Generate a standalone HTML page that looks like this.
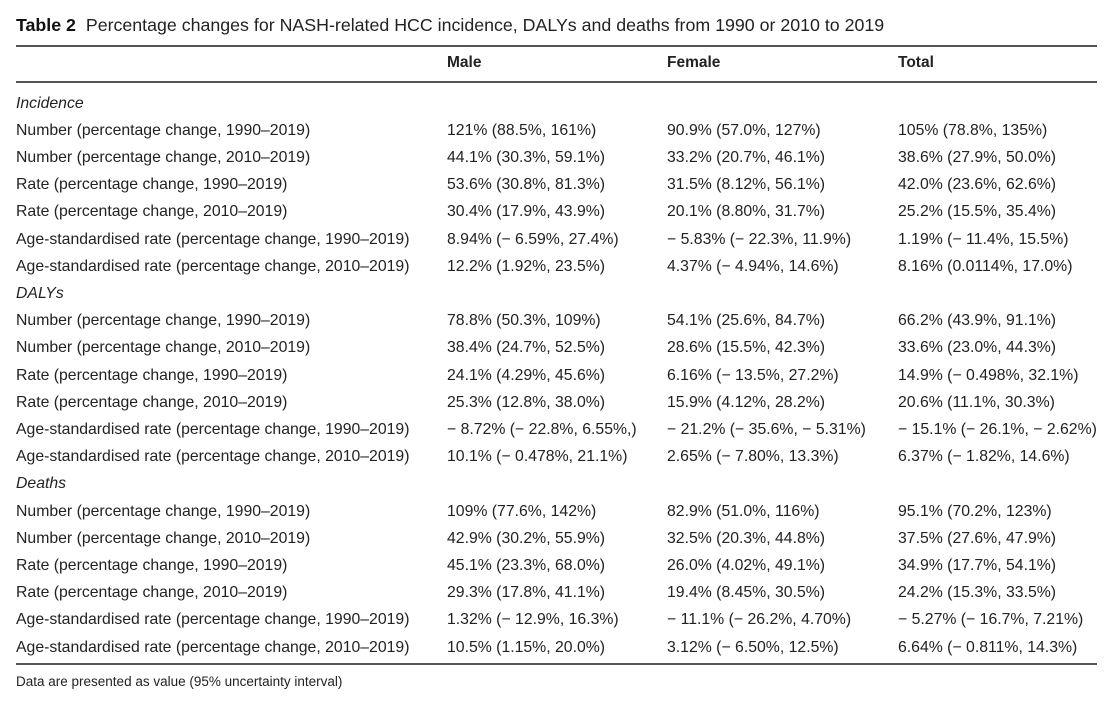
<!DOCTYPE html>
<html><head><meta charset="utf-8"><style>
body{margin:0;width:1107px;height:702px;background:#fff;font-family:"Liberation Sans",sans-serif;color:#222;position:relative;overflow:hidden}
.t{position:absolute;white-space:nowrap;font-size:15.8px;line-height:18px}
.r{position:absolute;left:16px;width:1081px;height:2px;background:#555}
i{font-style:italic}
</style></head><body>
<div class="t" style="left:16px;top:14px;font-size:17.8px;line-height:22px"><b style="color:#111">Table 2</b>&nbsp; Percentage changes for NASH-related HCC incidence, DALYs and deaths from 1990 or 2010 to 2019</div>
<div class="r" style="top:45px"></div>
<div class="t" style="left:447px;top:54px;font-weight:bold;font-size:15.5px">Male</div>
<div class="t" style="left:667px;top:54px;font-weight:bold;font-size:15.5px">Female</div>
<div class="t" style="left:898px;top:54px;font-weight:bold;font-size:15.5px">Total</div>
<div class="r" style="top:81px"></div>
<div id="rows"></div>
<div class="r" style="top:663px"></div>
<div class="t" style="left:16px;top:673px;font-size:13.5px">Data are presented as value (95% uncertainty interval)</div>
<script>
var R=[
["<i>Incidence</i>"],
["Number (percentage change, 1990–2019)","121% (88.5%, 161%)","90.9% (57.0%, 127%)","105% (78.8%, 135%)"],
["Number (percentage change, 2010–2019)","44.1% (30.3%, 59.1%)","33.2% (20.7%, 46.1%)","38.6% (27.9%, 50.0%)"],
["Rate (percentage change, 1990–2019)","53.6% (30.8%, 81.3%)","31.5% (8.12%, 56.1%)","42.0% (23.6%, 62.6%)"],
["Rate (percentage change, 2010–2019)","30.4% (17.9%, 43.9%)","20.1% (8.80%, 31.7%)","25.2% (15.5%, 35.4%)"],
["Age-standardised rate (percentage change, 1990–2019)","8.94% (− 6.59%, 27.4%)","− 5.83% (− 22.3%, 11.9%)","1.19% (− 11.4%, 15.5%)"],
["Age-standardised rate (percentage change, 2010–2019)","12.2% (1.92%, 23.5%)","4.37% (− 4.94%, 14.6%)","8.16% (0.0114%, 17.0%)"],
["<i>DALYs</i>"],
["Number (percentage change, 1990–2019)","78.8% (50.3%, 109%)","54.1% (25.6%, 84.7%)","66.2% (43.9%, 91.1%)"],
["Number (percentage change, 2010–2019)","38.4% (24.7%, 52.5%)","28.6% (15.5%, 42.3%)","33.6% (23.0%, 44.3%)"],
["Rate (percentage change, 1990–2019)","24.1% (4.29%, 45.6%)","6.16% (− 13.5%, 27.2%)","14.9% (− 0.498%, 32.1%)"],
["Rate (percentage change, 2010–2019)","25.3% (12.8%, 38.0%)","15.9% (4.12%, 28.2%)","20.6% (11.1%, 30.3%)"],
["Age-standardised rate (percentage change, 1990–2019)","− 8.72% (− 22.8%, 6.55%,)","− 21.2% (− 35.6%, − 5.31%)","− 15.1% (− 26.1%, − 2.62%)"],
["Age-standardised rate (percentage change, 2010–2019)","10.1% (− 0.478%, 21.1%)","2.65% (− 7.80%, 13.3%)","6.37% (− 1.82%, 14.6%)"],
["<i>Deaths</i>"],
["Number (percentage change, 1990–2019)","109% (77.6%, 142%)","82.9% (51.0%, 116%)","95.1% (70.2%, 123%)"],
["Number (percentage change, 2010–2019)","42.9% (30.2%, 55.9%)","32.5% (20.3%, 44.8%)","37.5% (27.6%, 47.9%)"],
["Rate (percentage change, 1990–2019)","45.1% (23.3%, 68.0%)","26.0% (4.02%, 49.1%)","34.9% (17.7%, 54.1%)"],
["Rate (percentage change, 2010–2019)","29.3% (17.8%, 41.1%)","19.4% (8.45%, 30.5%)","24.2% (15.3%, 33.5%)"],
["Age-standardised rate (percentage change, 1990–2019)","1.32% (− 12.9%, 16.3%)","− 11.1% (− 26.2%, 4.70%)","− 5.27% (− 16.7%, 7.21%)"],
["Age-standardised rate (percentage change, 2010–2019)","10.5% (1.15%, 20.0%)","3.12% (− 6.50%, 12.5%)","6.64% (− 0.811%, 14.3%)"]];
var X=[16,447,667,898],h="";
R.forEach(function(r,i){var y=94.5+i*27.2;r.forEach(function(c,j){h+='<div class="t" style="left:'+X[j]+'px;top:'+y.toFixed(1)+'px">'+c+'</div>';});});
document.getElementById("rows").innerHTML=h;
</script>
</body></html>
